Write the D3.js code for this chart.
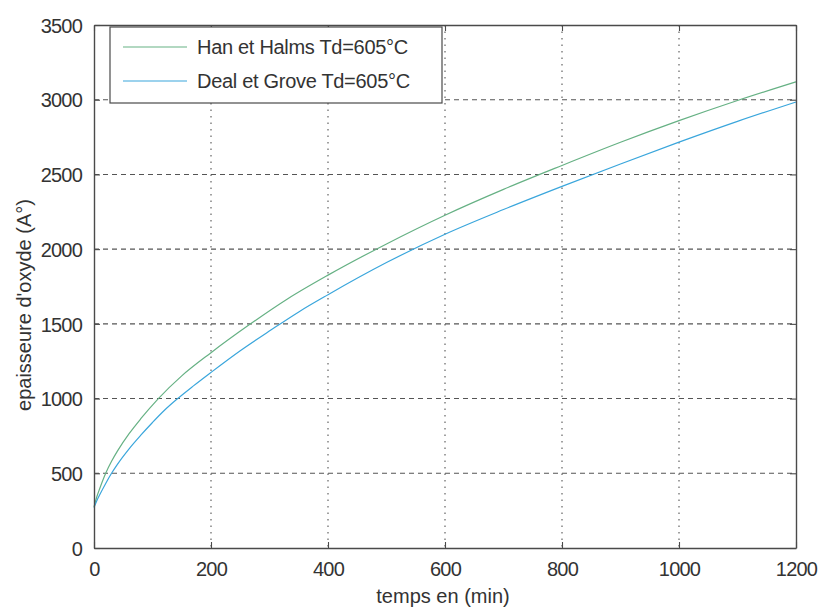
<!DOCTYPE html>
<html>
<head>
<meta charset="utf-8">
<script src="https://cdn.jsdelivr.net/npm/d3@7"></script>
<style>
  html, body { margin: 0; padding: 0; background: #fff; }
  svg { display: block; font-family: "Liberation Sans", Arial, sans-serif; }
</style>
</head>
<body>
<svg id="chart" width="820" height="614"></svg>
<script>
// Oxide thickness (Å) versus oxidation time (min) at Td = 605 °C
const timeHan = [0, 5, 10, 20, 30, 40, 60, 80, 110, 150, 200, 264, 330, 400, 500, 600, 700, 800, 900, 1000, 1100, 1200];
const hanHalms = [275, 345, 400, 500, 580, 648, 765, 865, 1000, 1152, 1307, 1490, 1665, 1826, 2035, 2227, 2400, 2560, 2715, 2860, 2995, 3120];

const timeDeal = [0, 5, 10, 20, 30, 40, 60, 80, 100, 120, 140, 170, 200, 250, 303, 350, 400, 500, 600, 700, 800, 900, 1000, 1100, 1200];
const dealGrove = [270, 318, 358, 432, 500, 560, 664, 755, 840, 920, 990, 1085, 1175, 1320, 1460, 1580, 1695, 1910, 2100, 2265, 2420, 2570, 2716, 2855, 2985];

const xTicks = [0, 200, 400, 600, 800, 1000, 1200];
const yTicks = [0, 500, 1000, 1500, 2000, 2500, 3000, 3500];

const seriesNames = ["Han et Halms Td=605°C", "Deal et Grove Td=605°C"];
const seriesColors = ["#66b184", "#3aa6dc"];

const svg = d3.select("#chart");
const plot = { left: 94, right: 796, top: 25, bottom: 548 };

const x = d3.scaleLinear().domain([0, 1200]).range([plot.left, plot.right]);
const y = d3.scaleLinear().domain([0, 3500]).range([plot.bottom, plot.top]);

const frameColor = "#4a4a4a";
const gridColor = "#555";

// grid
const grid = svg.append("g");
grid.selectAll("line.gx").data(xTicks.slice(1, -1)).join("line")
  .attr("x1", d => x(d)).attr("x2", d => x(d))
  .attr("y1", plot.top).attr("y2", plot.bottom)
  .attr("stroke", gridColor).attr("stroke-width", 1.1)
  .attr("stroke-dasharray", "1.5,5");
grid.selectAll("line.gy").data(yTicks.slice(1, -1)).join("line")
  .attr("x1", plot.left).attr("x2", plot.right)
  .attr("y1", d => y(d)).attr("y2", d => y(d))
  .attr("stroke", gridColor).attr("stroke-width", 1.1)
  .attr("stroke-dasharray", "5,4");

// curves
const series = [
  timeHan.map((t, k) => [t, hanHalms[k]]),
  timeDeal.map((t, k) => [t, dealGrove[k]])
];
const line = d3.line()
  .x(d => x(d[0])).y(d => y(d[1]))
  .curve(d3.curveMonotoneX);
series.forEach((pts, i) => {
  svg.append("path")
    .datum(pts)
    .attr("fill", "none")
    .attr("stroke", seriesColors[i])
    .attr("stroke-width", 1.2)
    .attr("d", line);
});

// axes (box with inward ticks on all four sides)
const tickLen = 6;
const fmt = d3.format("d");
const axB = svg.append("g").attr("transform", `translate(0,${plot.bottom})`)
  .call(d3.axisBottom(x).tickValues(xTicks).tickFormat(fmt).tickSizeInner(-tickLen).tickSizeOuter(0).tickPadding(14));
const axT = svg.append("g").attr("transform", `translate(0,${plot.top})`)
  .call(d3.axisTop(x).tickValues(xTicks).tickFormat("").tickSizeInner(-tickLen).tickSizeOuter(0));
const axL = svg.append("g").attr("transform", `translate(${plot.left},0)`)
  .call(d3.axisLeft(y).tickValues(yTicks).tickFormat(fmt).tickSizeInner(-tickLen).tickSizeOuter(0).tickPadding(12));
const axR = svg.append("g").attr("transform", `translate(${plot.right},0)`)
  .call(d3.axisRight(y).tickValues(yTicks).tickFormat("").tickSizeInner(-tickLen).tickSizeOuter(0));

[axB, axT, axL, axR].forEach(a => {
  a.select(".domain").attr("stroke", frameColor).attr("stroke-width", 1.4);
  a.selectAll(".tick line").attr("stroke", frameColor).attr("stroke-width", 1.1);
  a.selectAll(".tick text")
    .attr("fill", "#333")
    .style("font-size", "20px")
    .style("letter-spacing", "-0.8px")
    .style("font-family", "'Liberation Sans', Arial, sans-serif");
});
axL.selectAll(".tick text").attr("dy", "0.36em");

// axis titles
svg.append("text")
  .attr("x", 443).attr("y", 603)
  .attr("text-anchor", "middle")
  .attr("fill", "#333")
  .style("font-size", "20px")
  .text("temps en (min)");
svg.append("text")
  .attr("transform", "translate(31,305) rotate(-90)")
  .attr("text-anchor", "middle")
  .attr("fill", "#333")
  .style("font-size", "20px")
  .text("epaisseure d'oxyde (A°)");

// legend
const lg = svg.append("g");
lg.append("rect")
  .attr("x", 110).attr("y", 27).attr("width", 332).attr("height", 76)
  .attr("fill", "#fff").attr("stroke", frameColor).attr("stroke-width", 1.2);
seriesNames.forEach((name, i) => {
  const cy = 47 + i * 34;
  lg.append("line")
    .attr("x1", 123).attr("x2", 187).attr("y1", cy).attr("y2", cy)
    .attr("stroke", seriesColors[i]).attr("stroke-width", 1.2);
  lg.append("text")
    .attr("x", 197).attr("y", cy).attr("dy", "0.36em")
    .attr("fill", "#333")
    .style("font-size", "20px")
    .style("letter-spacing", "-0.3px")
    .text(name);
});
</script>
</body>
</html>
